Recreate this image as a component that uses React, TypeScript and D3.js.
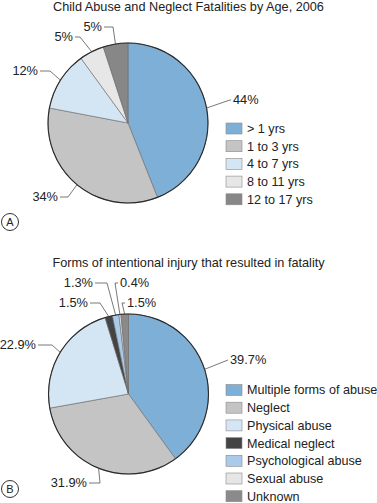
import React from "react";
import * as d3 from "d3";

// ---- Data ----
const titleA = "Child Abuse and Neglect Fatalities by Age, 2006";
const categoriesA = ["> 1 yrs", "1 to 3 yrs", "4 to 7 yrs", "8 to 11 yrs", "12 to 17 yrs"];
const valuesA = [44, 34, 12, 5, 5];
const labelsA = ["44%", "34%", "12%", "5%", "5%"];
const colorsA = ["#7eb0d7", "#c4c4c4", "#d4e5f4", "#e7e7e7", "#878787"];

const titleB = "Forms of intentional injury that resulted in fatality";
const categoriesB = [
  "Multiple forms of abuse",
  "Neglect",
  "Physical abuse",
  "Medical neglect",
  "Psychological abuse",
  "Sexual abuse",
  "Unknown",
];
const valuesB = [39.7, 31.9, 22.9, 1.5, 1.3, 0.4, 1.5];
const labelsB = ["39.7%", "31.9%", "22.9%", "1.5%", "1.3%", "0.4%", "1.5%"];
const colorsB = ["#7eb0d7", "#c4c4c4", "#d4e5f4", "#444444", "#a9cbe9", "#e6e6e6", "#8a8a8a"];

// ---- Layout (label placements: elbow point, text anchor side) ----
type LabelPos = { ex: number; ey: number; side: "left" | "right"; gap: number };
const labelLayoutA: LabelPos[] = [
  { ex: 230, ey: 100, side: "right", gap: 3 },
  { ex: 68, ey: 197, side: "left", gap: 10 },
  { ex: 50, ey: 71, side: "left", gap: 12 },
  { ex: 80, ey: 37, side: "left", gap: 7 },
  { ex: 113, ey: 27, side: "left", gap: 11 },
];
const labelLayoutB: LabelPos[] = [
  { ex: 228, ey: 360, side: "right", gap: 2 },
  { ex: 100, ey: 483, side: "left", gap: 13 },
  { ex: 52, ey: 345, side: "left", gap: 16 },
  { ex: 100, ey: 303, side: "left", gap: 12 },
  { ex: 107, ey: 283, side: "left", gap: 14 },
  { ex: 115, ey: 283, side: "right", gap: 5 },
  { ex: 122, ey: 303, side: "right", gap: 5 },
];

const FONT = "'Liberation Sans', Arial, Helvetica, sans-serif";

type PanelProps = {
  title: string;
  titleY: number;
  cx: number;
  cy: number;
  r: number;
  values: number[];
  labels: string[];
  cats: string[];
  colors: string[];
  layout: LabelPos[];
  legendY: number;
  letter: string;
  letterY: number;
};

function Panel(p: PanelProps) {
  const pie = d3
    .pie<number>()
    .sort(null)
    .value((d) => d);
  const arcs = pie(p.values);
  const arc = d3.arc<d3.PieArcDatum<number>>().innerRadius(0).outerRadius(p.r);
  const legendStep = 17.7;
  const legendX = 226;

  return (
    <g>
      <text
        x={188.5}
        y={p.titleY}
        textAnchor="middle"
        fontFamily={FONT}
        fontSize={12.7}
        fill="#222"
      >
        {p.title}
      </text>
      <g transform={`translate(${p.cx},${p.cy})`}>
        {arcs.map((a, i) => (
          <path key={i} d={arc(a) || ""} fill={p.colors[i]} stroke="#6a6a6a" strokeWidth={0.6} />
        ))}
        <circle r={p.r} fill="none" stroke="#2a2a2a" strokeWidth={1.1} />
      </g>
      {arcs.map((a, i) => {
        const mid = (a.startAngle + a.endAngle) / 2;
        const px = p.cx + p.r * Math.sin(mid);
        const py = p.cy - p.r * Math.cos(mid);
        const L = p.layout[i];
        const tx = L.side === "left" ? L.ex - L.gap : L.ex + L.gap;
        const lineEnd = L.side === "left" ? tx + 2 : tx - 2;
        return (
          <g key={"l" + i}>
            <polyline
              points={`${px},${py} ${L.ex},${L.ey} ${lineEnd},${L.ey}`}
              fill="none"
              stroke="#555"
              strokeWidth={0.8}
            />
            <text
              x={tx}
              y={L.ey}
              dy="0.35em"
              textAnchor={L.side === "left" ? "end" : "start"}
              fontFamily={FONT}
              fontSize={12.8}
              fill="#222"
            >
              {p.labels[i]}
            </text>
          </g>
        );
      })}
      {p.cats.map((c, i) => {
        const y = p.legendY + i * legendStep;
        return (
          <g key={"g" + i}>
            <rect
              x={legendX}
              y={y - 5.5}
              width={16}
              height={11}
              fill={p.colors[i]}
              stroke="#8a8a8a"
              strokeWidth={0.6}
            />
            <text
              x={legendX + 21}
              y={y}
              dy="0.35em"
              fontFamily={FONT}
              fontSize={12.6}
              fill="#222"
            >
              {c}
            </text>
          </g>
        );
      })}
      <circle cx={10} cy={p.letterY} r={8.5} fill="#fff" stroke="#333" strokeWidth={1} />
      <text
        x={10}
        y={p.letterY}
        dy="0.36em"
        textAnchor="middle"
        fontFamily={FONT}
        fontSize={11}
        fill="#222"
      >
        {p.letter}
      </text>
    </g>
  );
}

export default function App() {
  return (
    <div style={{ position: "absolute", left: 0, top: 0 }}>
      <svg width={377} height={503} style={{ display: "block", background: "#fff" }}>
        <rect width={377} height={503} fill="#fff" />
        <Panel
          title={titleA}
          titleY={11}
          cx={128}
          cy={123}
          r={80}
          values={valuesA}
          labels={labelsA}
          cats={categoriesA}
          colors={colorsA}
          layout={labelLayoutA}
          legendY={128.5}
          letter="A"
          letterY={222}
        />
        <Panel
          title={titleB}
          titleY={267}
          cx={128.5}
          cy={394}
          r={80}
          values={valuesB}
          labels={labelsB}
          cats={categoriesB}
          colors={colorsB}
          layout={labelLayoutB}
          legendY={390}
          letter="B"
          letterY={489}
        />
      </svg>
    </div>
  );
}
